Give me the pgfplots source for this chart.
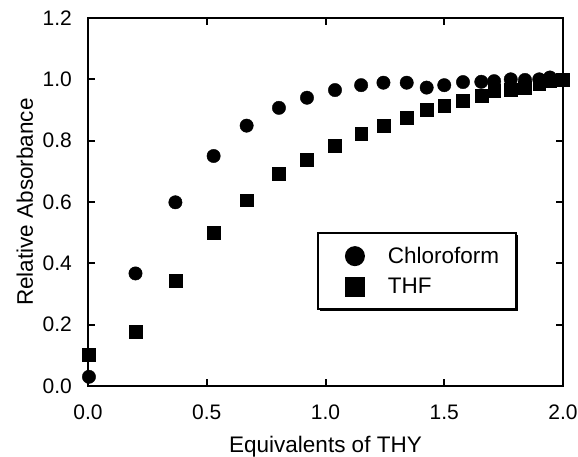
\documentclass[border=0pt]{standalone}
\usepackage{pgfplots}
\pgfplotsset{compat=1.18}
\usepackage{fontspec}
\setmainfont{Liberation Sans}
\usetikzlibrary{shadows}

\begin{document}
\begin{tikzpicture}
\begin{axis}[
    scale only axis,
    width=475pt, height=368pt,
    xmin=0, xmax=2.0,
    ymin=0, ymax=1.2,
    xtick={0,0.5,1.0,1.5,2.0},
    ytick={0,0.2,0.4,0.6,0.8,1.0,1.2},
    /pgf/number format/fixed,
    /pgf/number format/fixed zerofill,
    /pgf/number format/precision=1,
    /pgf/number format/assume math mode=true,
    tick align=inside,
    major tick length=7pt,
    axis line style={line width=2pt},
    every tick/.style={black,line width=2pt},
    ticklabel style={font=\fontsize{21}{24}\selectfont},
    xticklabel style={anchor=base, yshift=-34pt},
    yticklabel style={anchor=east, inner sep=0pt, xshift=-16pt},
    xlabel={Equivalents of THY},
    ylabel={Relative Absorbance},
    label style={font=\fontsize{22.5}{26}\selectfont},
    xlabel style={at={(rel axis cs:0.5,0)}, anchor=base, yshift=-67pt},
    ylabel style={at={(rel axis cs:0,0.5)}, anchor=base, yshift=55pt},
    legend style={
        at={(rel axis cs:0.482,0.4185)}, anchor=north west,
        draw=black, line width=2pt,
        drop shadow={shadow xshift=1.8pt, shadow yshift=-1.8pt, fill=black, opacity=1},
        font=\fontsize{22.5}{26}\selectfont,
        inner xsep=15pt, inner ysep=12.25pt,
        row sep=9.2pt,
        /tikz/every odd column/.append style={column sep=21pt},
    },
    legend cell align=left,
    legend image code/.code={
        \path (-21pt,0pt) (9pt,0pt);
        \path[#1, draw=none, fill=black, mark size=9pt] plot coordinates {(0pt,0pt)};
    },
]
\addplot[only marks, mark=*, mark size=6.7pt, black] coordinates {
    (0.004,0.03)
    (0.20,0.367)
    (0.368,0.599)
    (0.529,0.75)
    (0.668,0.849)
    (0.804,0.907)
    (0.922,0.94)
    (1.04,0.965)
    (1.15,0.981)
    (1.244,0.989)
    (1.342,0.989)
    (1.426,0.973)
    (1.50,0.981)
    (1.579,0.991)
    (1.656,0.992)
    (1.71,0.994)
    (1.78,1.0)
    (1.84,0.998)
    (1.90,1.0)
    (1.945,1.006)
    (2.0,0.998)
};
\addlegendentry{Chloroform}

\addplot[only marks, mark=square*, mark size=6.4pt, black] coordinates {
    (0.004,0.103)
    (0.20,0.177)
    (0.368,0.343)
    (0.529,0.50)
    (0.668,0.606)
    (0.804,0.691)
    (0.922,0.739)
    (1.04,0.783)
    (1.15,0.824)
    (1.244,0.848)
    (1.342,0.875)
    (1.426,0.90)
    (1.50,0.913)
    (1.579,0.930)
    (1.656,0.947)
    (1.71,0.962)
    (1.78,0.965)
    (1.84,0.974)
    (1.90,0.987)
    (1.945,0.995)
    (2.0,1.0)
};
\addlegendentry{THF}
\end{axis}
\pgfresetboundingbox
\path (current axis.south west) ++(-88pt,-71pt) rectangle ++(578pt,457pt);
\end{tikzpicture}
\end{document}
